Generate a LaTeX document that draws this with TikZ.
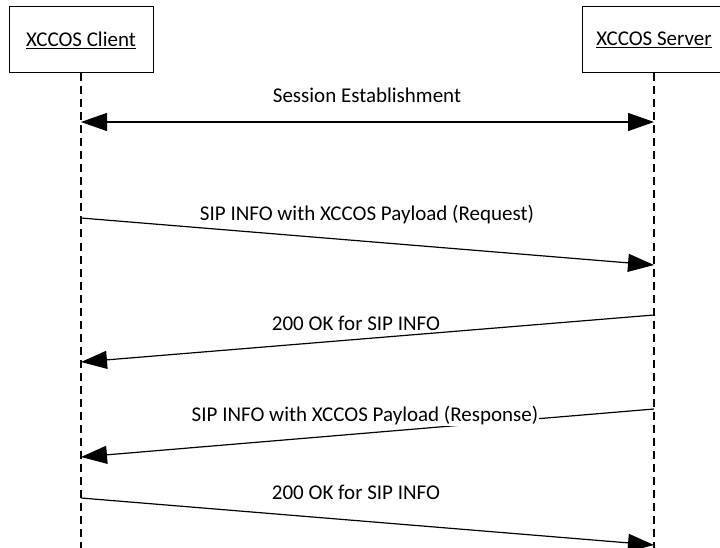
\documentclass[tikz,border=0pt]{standalone}
\usepackage{fontspec}
\setmainfont{Carlito}
\usetikzlibrary{arrows.meta, positioning}

\begin{document}
\begin{tikzpicture}[x=1pt, y=1pt, line width=1.2pt,
    actor/.style={draw, line width=1pt, minimum width=144pt, minimum height=66pt, font=\fontsize{21}{24}\selectfont},
    lifeline/.style={dash pattern=on 8pt off 5pt},
    msg/.style={-{Triangle[length=26pt, width=18pt]}},
    msglabel/.style={fill=white, inner sep=1pt, font=\fontsize{21}{24}\selectfont}]
    \useasboundingbox (0, 0) rectangle (720, -548);

    % draw actor boxes
    \node[actor] (client) at (81, -40) {\underline{XCCOS Client}};
    \node[actor] (server) at (654, -40) {\underline{XCCOS Server}};

    % draw lifelines
    \coordinate (clientend) at (81, -548);
    \coordinate (serverend) at (654, -548);
    \draw[lifeline] (client.south) -- (clientend);
    \draw[lifeline] (server.south) -- (serverend);

    % message end points
    \coordinate (c0) at (81, -122);  \coordinate (s0) at (654, -122);
    \coordinate (c1) at (81, -218);  \coordinate (s1) at (654, -265);
    \coordinate (c2) at (81, -362);  \coordinate (s2) at (654, -315);
    \coordinate (c3) at (81, -457);  \coordinate (s3) at (654, -409);
    \coordinate (c4) at (81, -498);  \coordinate (s4) at (654, -545);

    % draw messages
    \draw[{Triangle[length=26pt, width=18pt]}-{Triangle[length=26pt, width=18pt]}] (c0) -- (s0);
    \draw[msg] (c1) -- (s1);
    \draw[msg] (s2) -- (c2);
    \draw[msg] (s3) -- (c3);
    \draw[msg] (c4) -- (s4);

    % draw labels
    \node[msglabel] (l0) at (367, -95) {Session Establishment};
    \node[msglabel] (l1) at (367, -215) {SIP INFO with XCCOS Payload (Request)};
    \node[msglabel] (l2) at (356, -323) {200 OK for SIP INFO};
    \node[msglabel] (l3) at (365, -416) {SIP INFO with XCCOS Payload (Response)};
    \node[msglabel] (l4) at (356, -492) {200 OK for SIP INFO};
\end{tikzpicture}
\end{document}
